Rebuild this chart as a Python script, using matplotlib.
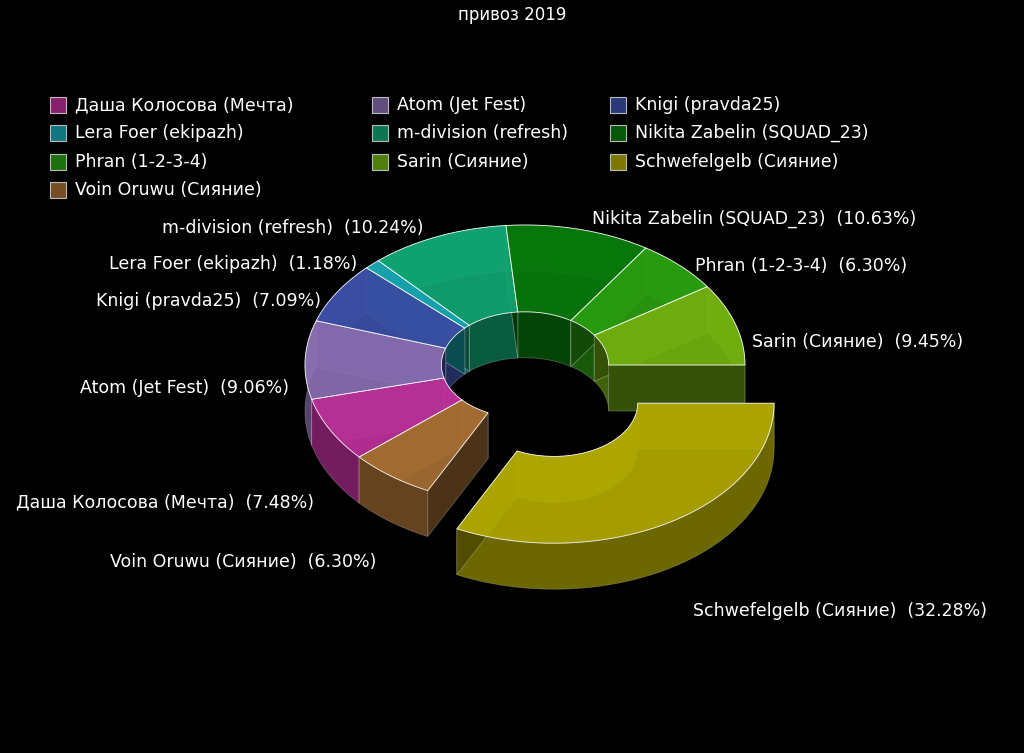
import numpy as np
import matplotlib
matplotlib.use("Agg")
import matplotlib.pyplot as plt
from matplotlib.patches import Polygon, Rectangle
import matplotlib.colors as mc

names = ["Даша Колосова (Мечта)", "Atom (Jet Fest)", "Knigi (pravda25)", "Lera Foer (ekipazh)",
         "m-division (refresh)", "Nikita Zabelin (SQUAD_23)", "Phran (1-2-3-4)", "Sarin (Сияние)",
         "Schwefelgelb (Сияние)", "Voin Oruwu (Сияние)"]
counts = [19, 23, 18, 3, 26, 27, 16, 24, 82, 16]
colors = ["#c0309c", "#8c70b4", "#3c50a8", "#18a8b4", "#10a874", "#087c0c", "#2aa010", "#74b410", "#b4ac00", "#a87034"]
explode = [0, 0, 0, 0, 0, 0, 0, 0, 1, 0]

fig = plt.figure(figsize=(10.24, 7.53), dpi=100, facecolor="black")
ax = fig.add_axes([0, 0, 1, 1])
ax.set_xlim(0, 1024); ax.set_ylim(753, 0); ax.axis("off"); ax.set_facecolor("black")

CX, CY, RX, RY, H, RIN = 525, 365, 220, 140, 46, 0.38
tot = sum(counts)
fr = np.array(counts) / tot
start = -138.9
ang = []
a = start
for f in fr:
    ang.append((a, a - f * 360)); a -= f * 360

def pt(t, r, z, dx, dy):
    t = np.radians(t)
    return CX + dx + r * RX * np.cos(t), CY + dy - r * RY * np.sin(t) + z

def dark(c, k):
    r, g, b = mc.to_rgb(c); return (r * k, g * k, b * k)

items = []
tops = []
for i, (a0, a1) in enumerate(ang):
    mid = np.radians((a0 + a1) / 2)
    dx = explode[i] * 55 * np.cos(mid); dy = -explode[i] * 45 * np.sin(mid)
    ts = np.linspace(a0, a1, 60)
    c = colors[i]
    inner = [pt(t, RIN, 0, dx, dy) for t in ts] + [pt(t, RIN, H, dx, dy) for t in ts[::-1]]
    items.append((-1000, inner, dark(c, 0.55)))
    outer = [pt(t, 1, 0, dx, dy) for t in ts] + [pt(t, 1, H, dx, dy) for t in ts[::-1]]
    items.append((-np.sin(mid) * 100, outer, dark(c, 0.6)))
    for t in (a0, a1):
        side = [pt(t, RIN, 0, dx, dy), pt(t, 1, 0, dx, dy), pt(t, 1, H, dx, dy), pt(t, RIN, H, dx, dy)]
        items.append((-np.sin(np.radians(t)) * 100 - 1, side, dark(c, 0.45)))
    top = [pt(t, 1, 0, dx, dy) for t in ts] + [pt(t, RIN, 0, dx, dy) for t in ts[::-1]]
    tops.append((top, c))
    s, co = np.sin(mid), np.cos(mid)
    sg = 1 if co > 0 else -1
    lx = CX + dx * 1.3 + 1.02 * RX * co + sg * 12
    ly = CY + dy - 1.3 * RY * s + 30 + (H / 2 if s < 0 else 0)
    ax.text(lx, ly, f"{names[i]}  ({counts[i]/tot*100:.2f}%)", color="white", fontsize=12.5,
            ha="left" if sg > 0 else "right", va="center")

for d, poly, col in sorted(items, key=lambda x: x[0]):
    ax.add_patch(Polygon(poly, closed=True, fc=col, ec=(1, 1, 1, 0.25), lw=0.6))
for poly, col in tops:
    ax.add_patch(Polygon(poly, closed=True, fc=col, ec=(1, 1, 1, 0.4), lw=0.6, alpha=0.92))

ax.text(512, 15, "привоз 2019", color="white", fontsize=12, ha="center", va="center")

lx0 = [50, 372, 610]; ly0 = [105, 133, 162, 190]
for i, n in enumerate(names):
    x = lx0[i % 3]; y = ly0[i // 3]
    ax.add_patch(Rectangle((x, y - 8), 16, 16, fc=dark(colors[i], 0.7), ec="#bbbbbb", lw=0.8))
    ax.text(x + 25, y, n, color="white", fontsize=12.5, va="center", ha="left")

fig.savefig("out.png", dpi=100, facecolor="black")
